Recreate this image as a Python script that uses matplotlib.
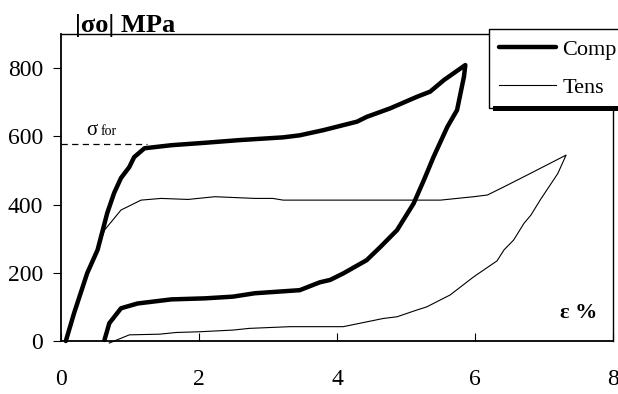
import matplotlib
matplotlib.use("Agg")
import matplotlib.pyplot as plt
from matplotlib.patches import Rectangle

# ---- data ----
comp_strain = [0.07, 0.19, 0.38, 0.53, 0.67, 0.77, 0.87, 0.99, 1.06, 1.21, 1.6, 2.08,
               2.59, 3.22, 3.46, 3.8, 4.29, 4.43, 4.77, 5.16, 5.35, 5.55, 5.86,
               5.84, 5.74, 5.6, 5.4, 5.26, 5.11, 4.87, 4.63, 4.43, 4.09, 3.9, 3.75,
               3.46, 2.81, 2.49, 2.08, 1.6, 1.11, 0.87, 0.7, 0.63]
comp_stress = [0, 82, 199, 267, 375, 434, 478, 510, 539, 565, 574, 581,
               589, 597, 603, 618, 643, 657, 682, 716, 731, 765, 809,
               775, 677, 628, 540, 472, 403, 325, 276, 237, 198, 179, 172,
               149, 140, 130, 125, 122, 110, 96, 52, 3]

tens_strain = [0.07, 0.2, 0.38, 0.53, 0.63, 0.87, 1.16, 1.45, 1.84, 2.23, 2.81, 3.07,
               3.22, 5.5, 5.98, 6.18, 6.42, 6.8, 7.32,
               7.2, 6.95, 6.81, 6.71, 6.56, 6.42, 6.32, 5.98, 5.64, 5.3, 5.16, 4.87,
               4.67, 4.09, 3.75, 3.32, 2.73, 2.49, 2.0, 1.67, 1.43, 0.99, 0.7]
tens_stress = [0, 80, 195, 265, 325, 384, 413, 418, 415, 423, 418, 418,
               413, 413, 423, 428, 452, 491, 545,
               491, 415, 369, 345, 296, 267, 235, 188, 135, 100, 91, 71,
               66, 42, 42, 42, 37, 32, 27, 25, 20, 18, -6]

sigma_for = 577
sigma_for_x = [0, 1.25]

xticks = [0, 2, 4, 6, 8]
yticks = [0, 200, 400, 600, 800]

plt.rcParams['font.family'] = ['Liberation Serif', 'DejaVu Serif']
plt.rcParams['mathtext.fontset'] = 'stix'

fig = plt.figure(figsize=(6.18, 3.94), dpi=100)
ax = fig.add_axes([61/618, 1-341/394, (613-61)/618, (341-34)/394])

ax.plot(comp_strain, comp_stress, color='black', lw=3.2, label='Comp',
        solid_joinstyle='round', solid_capstyle='round', clip_on=False, zorder=3)
ax.plot(tens_strain, tens_stress, color='black', lw=0.8, label='Tens',
        clip_on=False, zorder=3)
ax.plot(sigma_for_x, [sigma_for, sigma_for], color='black', lw=0.9,
        dashes=(5, 3.5))

ax.set_xlim(0, 8)
ax.set_ylim(0, 900)
ax.set_xticks(xticks)
ax.set_yticks(yticks)
ax.tick_params(axis='x', direction='in', length=6, width=0.8, pad=20, labelsize=17)
ax.tick_params(axis='y', direction='out', length=6, width=0.8, pad=7, labelsize=17)
for s in ax.spines.values():
    s.set_linewidth(1.0)
ax.spines['left'].set_linewidth(1.3)
ax.spines['bottom'].set_linewidth(1.3)

# annotations
fig.text(75/618, 1-32/394, '|σo| MPa', fontsize=19, fontweight='bold',
         ha='left', va='baseline')
ax.text(7.77, 67, 'ε %', fontsize=16, fontweight='bold', ha='right', va='baseline')
ax.text(0.36, 605, 'σ', fontsize=15, ha='left', va='baseline')
ax.text(0.58, 605, 'for', fontsize=10, ha='left', va='baseline')

# legend
leg = ax.legend(loc='upper left',
                bbox_to_anchor=(489/618, 1-106/394, 0.24, 77/394),
                bbox_transform=fig.transFigure, borderaxespad=0, frameon=True,
                mode='expand',
                fancybox=False, framealpha=1, edgecolor='black',
                prop={'family': 'Liberation Serif', 'size': 16},
                borderpad=0.45, labelspacing=0.8, handlelength=2.55,
                handletextpad=0.3)
leg.get_frame().set_linewidth(1.0)
leg.set_zorder(10)
fig.patches.append(Rectangle((493/618, 1-111/394), 0.3, 5/394,
                             transform=fig.transFigure, facecolor='black',
                             edgecolor='none', zorder=9))

fig.savefig('out.png', dpi=100)
